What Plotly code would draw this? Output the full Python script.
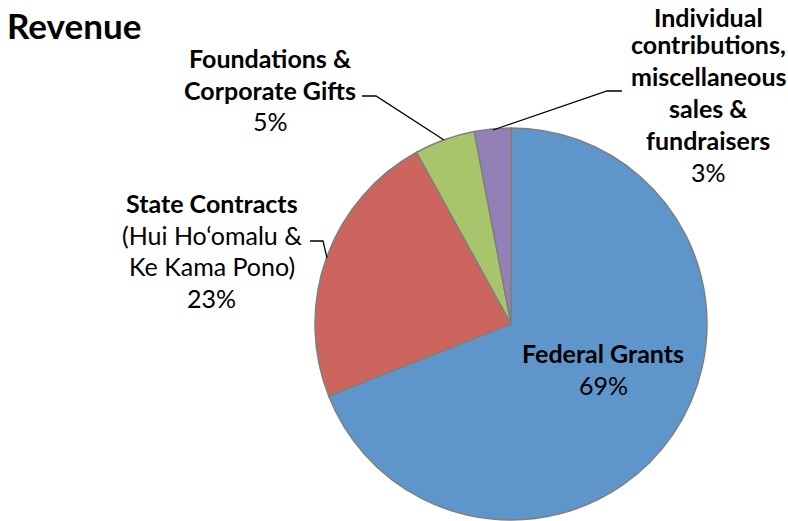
import plotly.graph_objects as go

# ---- data ----
categories = ["Federal Grants", "State Contracts", "Foundations & Corporate Gifts",
              "Individual contributions, miscellaneous sales & fundraisers"]
values = [69, 23, 5, 3]
pct_labels = ["69%", "23%", "5%", "3%"]
label_lines = [
    ["Federal Grants"],
    ["State Contracts", "(Hui Ho\u2018omalu &", "Ke Kama Pono)"],
    ["Foundations &", "Corporate Gifts"],
    ["Individual", "contributions,", "miscellaneous", "sales &", "fundraisers"],
]
colors = ["#5E96CB", "#CB655E", "#A8C56C", "#9280B6"]

W, H = 788, 521
FONT = "Lato"

def px(x):
    return x / W

def py(y):
    return 1 - y / H

cx, cy, r = 511, 324, 196

fig = go.Figure(go.Pie(
    labels=categories,
    values=values,
    sort=False,
    direction="clockwise",
    rotation=0,
    textinfo="none",
    hoverinfo="label+percent",
    marker=dict(colors=colors, line=dict(color="#7F7F7F", width=1.5)),
    domain=dict(x=[px(cx - r), px(cx + r)], y=[py(cy + r), py(cy - r)]),
    showlegend=False,
))

annotations = []
LS = 25

def ann(x, y, text, bold):
    annotations.append(dict(
        x=px(x), y=py(y), xref="paper", yref="paper",
        text=("<b>" + text + "</b>") if bold else text,
        showarrow=False, xanchor="center", yanchor="middle",
        font=dict(family=FONT, size=LS, color="black")))

def add_block(lines, pct, x, y0, step, nbold, first_y=None):
    for i, t in enumerate(lines):
        y = y0 + i * step
        if i == 0 and first_y is not None:
            y = first_y
        ann(x, y, t, i < nbold)
    ann(x, y0 + len(lines) * step, pct, False)

add_block(label_lines[0], pct_labels[0], 603, 353, 32, 1)
add_block(label_lines[1], pct_labels[1], 212, 203, 31.7, 1)
add_block(label_lines[2], pct_labels[2], 270, 58, 31.5, 2)
add_block(label_lines[3], pct_labels[3], 708, 12, 32, 5, first_y=17)

# title
annotations.append(dict(x=px(5), y=py(25), xref="paper", yref="paper",
                        text="<b>Revenue</b>", showarrow=False, xanchor="left", yanchor="middle",
                        font=dict(family=FONT, size=35, color="black")))

def leader(points):
    d = "M " + " L ".join(f"{px(x)},{py(y)}" for x, y in points)
    return dict(type="path", xref="paper", yref="paper", path=d,
                line=dict(color="black", width=1.3))

shapes = [
    leader([(362, 96), (376, 96), (444, 140)]),
    leader([(622, 91), (607, 91), (493, 130)]),
    leader([(310, 241), (323, 241), (327, 258)]),
]

fig.update_layout(
    width=W, height=H,
    margin=dict(l=0, r=0, t=0, b=0),
    paper_bgcolor="white", plot_bgcolor="white",
    annotations=annotations,
    shapes=shapes,
)

fig.write_html("out.html", config={"displayModeBar": False},
               post_script="document.body.style.margin='0px';")
